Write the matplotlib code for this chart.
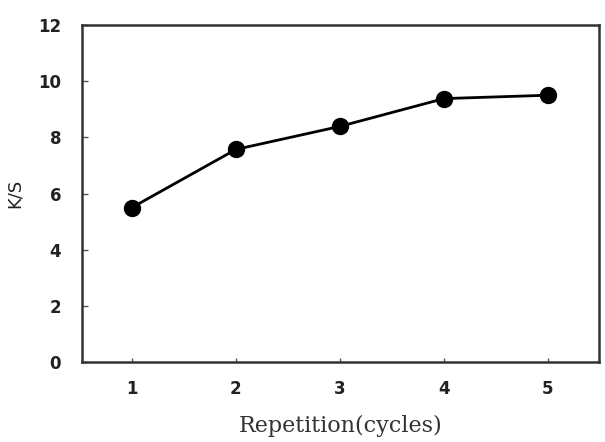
import matplotlib
matplotlib.use("Agg")
import matplotlib.pyplot as plt

# K/S values
cycles = [1, 2, 3, 4, 5]
ks_values = [5.5, 7.57, 8.39, 9.38, 9.5]
y_ticks = [0, 2, 4, 6, 8, 10, 12]

fig = plt.figure(figsize=(6.05, 4.42), dpi=100)
ax = fig.add_axes([0.1355, 0.181, 0.8545, 0.7624])

ax.plot(cycles, ks_values, color='black', linewidth=2,
        marker='o', markersize=11.5, markerfacecolor='black', markeredgecolor='black')

ax.set_xlim(0.52, 5.49)
ax.set_ylim(0, 12)
ax.set_xticks(cycles)
ax.set_yticks(y_ticks)

for sp in ax.spines.values():
    sp.set_linewidth(1.8)
    sp.set_color('#333333')

ax.tick_params(axis='y', direction='in', length=4, width=1, color='#555555', pad=15)
ax.tick_params(axis='x', direction='in', length=3, width=1, color='#555555', pad=13)
for lbl in ax.get_xticklabels() + ax.get_yticklabels():
    lbl.set_fontweight('bold')
    lbl.set_fontsize(12)
    lbl.set_color('#222222')

ax.set_ylabel('K/S', fontsize=13, color='#222222', labelpad=10)
ax.set_xlabel('Repetition(cycles)', fontsize=16, family='DejaVu Serif', color='#333333', labelpad=12)

fig.savefig('out.png', dpi=100)
